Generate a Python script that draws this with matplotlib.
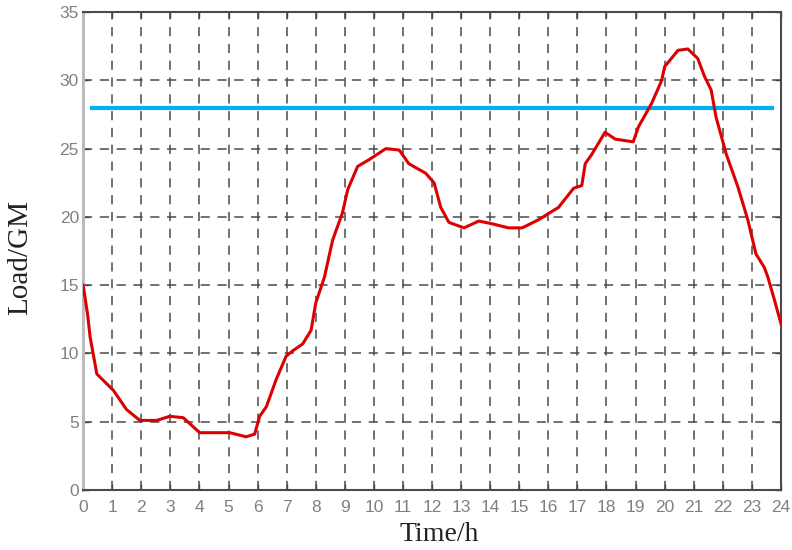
import numpy as np
import matplotlib
matplotlib.use('Agg')
import matplotlib.pyplot as plt

# ── data ──
hours = [0.0, 0.15, 0.24, 0.47, 1.04, 1.49, 1.95, 2.53, 2.98, 3.44, 4.01, 5.04,
         5.61, 5.9, 6.07, 6.3, 6.64, 6.98, 7.21, 7.55, 7.84, 8.0, 8.3, 8.58,
         8.92, 9.1, 9.44, 9.84, 10.41, 10.87, 11.2, 11.78, 12.07, 12.3, 12.58,
         13.1, 13.61, 14.06, 14.63, 15.1, 15.67, 16.35, 16.87, 17.15, 17.27,
         17.5, 17.95, 18.3, 18.92, 19.1, 19.55, 19.9, 20.0, 20.46, 20.8, 21.14,
         21.37, 21.6, 21.77, 22.12, 22.52, 22.86, 23.14, 23.43, 23.55, 23.78, 24.0]
load = [15.0, 12.9, 11.2, 8.5, 7.3, 5.9, 5.1, 5.1, 5.4, 5.3, 4.2, 4.2,
        3.9, 4.1, 5.4, 6.1, 8.1, 9.8, 10.2, 10.7, 11.7, 13.7, 15.6, 18.3,
        20.3, 22.0, 23.7, 24.2, 25.0, 24.9, 23.9, 23.2, 22.5, 20.7, 19.6,
        19.2, 19.7, 19.5, 19.2, 19.2, 19.8, 20.7, 22.1, 22.3, 23.9,
        24.6, 26.2, 25.7, 25.5, 26.6, 28.3, 30.0, 31.0, 32.2, 32.3, 31.6,
        30.3, 29.3, 27.3, 24.6, 22.2, 19.8, 17.3, 16.3, 15.6, 13.9, 12.2]

limit_level = 28.0
limit_span = [0.24, 23.75]

x_ticks = list(range(0, 25))
y_ticks = [0, 5, 10, 15, 20, 25, 30, 35]

fig = plt.figure(figsize=(7.92, 5.5), dpi=100)
ax = fig.add_axes([0.105, 0.109, 0.881, 0.869])

ax.plot(limit_span, [limit_level, limit_level], color='#00b0f0', linewidth=3.0,
        solid_capstyle='butt', zorder=3)
ax.plot(hours, load, color='#dd0000', linewidth=2.2, zorder=4)

ax.set_xlim(0, 24)
ax.set_ylim(0, 35)
ax.set_xticks(x_ticks)
ax.set_yticks(y_ticks)

ax.grid(True, color='#4a4a4a', linestyle=(0, (6, 5)), linewidth=1.1)
ax.tick_params(direction='in', length=4, width=1, colors='#444444',
               labelcolor='#808080', labelsize=12.5, top=True, right=True)
ax.tick_params(axis='x', pad=7)
ax.tick_params(axis='y', pad=3)
for lbl in ax.get_xticklabels() + ax.get_yticklabels():
    lbl.set_fontfamily('Liberation Sans')

for side in ['top', 'right', 'bottom']:
    ax.spines[side].set_color('#4a4a4a')
    ax.spines[side].set_linewidth(1.5)
ax.spines['left'].set_color('#bbbbbb')
ax.spines['left'].set_linewidth(2.2)

ax.set_xlabel('Time/h', fontfamily='Liberation Serif', fontsize=20, color='#222222')
ax.set_ylabel('Load/GM', fontfamily='Liberation Serif', fontsize=21, color='#222222')
ax.xaxis.set_label_coords(0.51, -0.066, transform=ax.transAxes)
ax.yaxis.set_label_coords(-0.072, 0.486, transform=ax.transAxes)

fig.savefig('out.png', dpi=100)
plt.close(fig)
